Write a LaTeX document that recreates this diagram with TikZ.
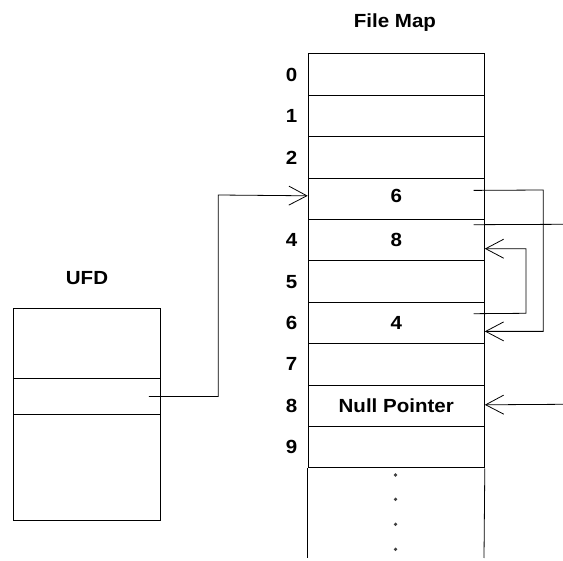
\documentclass[tikz,border=0pt]{standalone}
\usepackage{fontspec}
\setmainfont{Liberation Sans}[FakeStretch=1.08]
\usetikzlibrary{arrows.meta,calc}
\begin{document}
\begin{tikzpicture}[x=1pt,y=-1pt,line width=0.8pt,
  txt/.style={font=\bfseries\fontsize{19}{22}\selectfont},
  cell/.style={draw,txt,minimum width=176.3pt,minimum height=41.4pt,inner sep=0pt,anchor=north west},
  ucell/.style={draw,minimum width=147.3pt,inner sep=0pt,anchor=north west},
  ptr/.style={-{Straight Barb[length=18pt,width=19pt]}},
  dotmark/.style={circle,fill=black!75,draw=none,inner sep=0pt,minimum size=3.6pt}]
\useasboundingbox (0,0) rectangle (563,561);
% File Map
\node[txt] (title) at (395,23) {File Map};
\node[cell] (r0) at (307.7,53.5) {};
\node[cell] (r1) at (307.7,94.9) {};
\node[cell] (r2) at (307.7,136.3) {};
\node[cell] (r3) at (307.7,177.7) {};
\node[cell] (r4) at (307.7,219.1) {8};
\node[cell] (r5) at (307.7,260.5) {};
\node[cell] (r6) at (307.7,301.9) {4};
\node[cell] (r7) at (307.7,343.3) {};
\node[cell] (r8) at (307.7,384.7) {Null Pointer};
\node[cell] (r9) at (307.7,426.1) {};
\node[txt] (v3) at ($(r3.center)+(0,-3)$) {6};
\draw (r9.south west) -- (307.7,558);
\draw (r9.south east) -- (484,558);
\foreach \y [count=\i] in {475,499.3,524.3,549.3} \node[dotmark] (d\i) at (395.5,\y) {};
% row numbers
\foreach \r/\t in {0/0,1/1,2/2,4/4,5/5,6/6,7/7,8/8,9/9}
  \node[txt] (n\r) at ($(r\r.west)+(-16,0)$) {\t};
% UFD
\node[txt] (utitle) at (87,278) {UFD};
\node[ucell,minimum height=70.6pt] (u1) at (12.7,307.7) {};
\node[ucell,minimum height=35.7pt] (u2) at (12.7,378.3) {};
\node[ucell,minimum height=106pt] (u3) at (12.7,414) {};
% connectors
\coordinate (a0) at ($(u2.east)+(-12,0)$);
\coordinate (a1) at ($(r3.west)+(0,-3)$);
\draw[ptr] (a0) -| (218.3,195) -- (a1);
\coordinate (b0) at ($(r3.east)+(-11.3,-8.4)$);
\coordinate (b1) at ($(r6.east)+(0,8.4)$);
\draw[ptr] (b0) -- (543.3,190) |- (b1);
\coordinate (c0) at ($(r4.east)+(-11.3,-15.5)$);
\coordinate (c1) at (563,224.3);
\draw (c0) -- (c1);
\coordinate (e0) at ($(r6.east)+(-11.3,-9.3)$);
\coordinate (e1) at ($(r4.east)+(0,8.5)$);
\draw[ptr] (e0) -- (526,313.3) |- (e1);
\coordinate (f0) at (563,404.3);
\coordinate (f1) at ($(r8.east)+(0,-1)$);
\draw[ptr] (f0) -- (f1);
\end{tikzpicture}
\end{document}
